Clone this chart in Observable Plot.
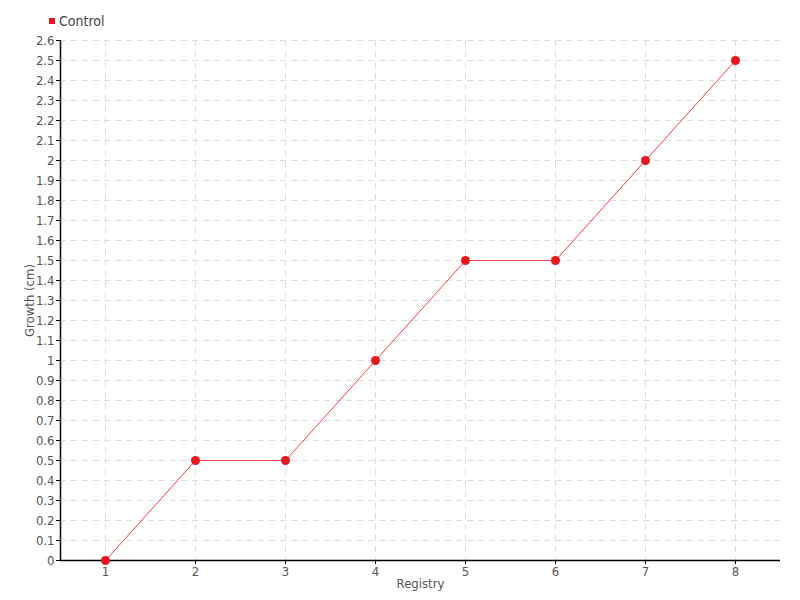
<!DOCTYPE html>
<html>
<head>
<meta charset="utf-8">
<script src="https://cdn.jsdelivr.net/npm/d3@7"></script>
<script src="https://cdn.jsdelivr.net/npm/@observablehq/plot@0.6"></script>
<style>
  body { margin: 0; background: #fff; }
  #wrap { position: relative; width: 800px; height: 600px; font-family: "Liberation Sans Narrow", "DejaVu Sans Condensed", sans-serif; }
  #legend { position: absolute; left: 49px; top: 13px; font-size: 14px; color: #444; display: flex; align-items: center; }
  #legend .sw { width: 6px; height: 6px; background: #e8171f; margin-right: 4px; }
</style>
</head>
<body>
<div id="wrap">
  <div id="legend"><span class="sw"></span><span>Control</span></div>
</div>
<script>
const registry = [1, 2, 3, 4, 5, 6, 7, 8];
const growth = [0, 0.5, 0.5, 1, 1.5, 1.5, 2, 2.5];
const seriesName = "Control";
const yTicks = d3.range(0, 27).map(i => i / 10);
const xTicks = registry;

const data = registry.map((r, i) => ({registry: r, growth: growth[i], series: seriesName}));
const fmt = d3.format("~g");

const chart = Plot.plot({
  width: 800,
  height: 600,
  marginLeft: 60,
  marginRight: 20,
  marginTop: 40,
  marginBottom: 40,
  style: {fontFamily: '"Liberation Sans Narrow", "DejaVu Sans Condensed", sans-serif', fontSize: "13px", color: "#444", background: "#fff"},
  x: {domain: [0.5, 8.5]},
  y: {domain: [0, 2.6]},
  marks: [
    Plot.gridY(yTicks, {stroke: "#ddd", strokeOpacity: 1, strokeDasharray: "6,5"}),
    Plot.gridX(xTicks, {stroke: "#ddd", strokeOpacity: 1, strokeDasharray: "6,5"}),
    Plot.axisY(yTicks, {tickSize: 4, stroke: "#000", fill: "#555", fontSize: 13, tickPadding: 2, label: null, tickFormat: fmt}),
    Plot.axisX(xTicks, {tickSize: 4, stroke: "#000", fill: "#555", fontSize: 13, tickPadding: 2, label: null, tickFormat: fmt}),
    Plot.text(["Growth (cm)"], {frameAnchor: "left", textAnchor: "middle", rotate: -90, dx: -31, fill: "#555", fontSize: 13}),
    Plot.text(["Registry"], {frameAnchor: "bottom", dy: 27, fill: "#555", fontSize: 13}),
    Plot.ruleX([0.5], {stroke: "#000", strokeWidth: 1.5}),
    Plot.ruleY([0], {stroke: "#000", strokeWidth: 1.5}),
    Plot.line(data, {x: "registry", y: "growth", stroke: "#ff3b4a", strokeWidth: 1}),
    Plot.dot(data, {x: "registry", y: "growth", r: 4.5, fill: "#e8171f", stroke: "none"})
  ]
});
document.getElementById("wrap").prepend(chart);
chart.style.position = "absolute";
chart.style.left = "0";
chart.style.top = "0";
document.getElementById("legend").style.zIndex = 2;
</script>
</body>
</html>
